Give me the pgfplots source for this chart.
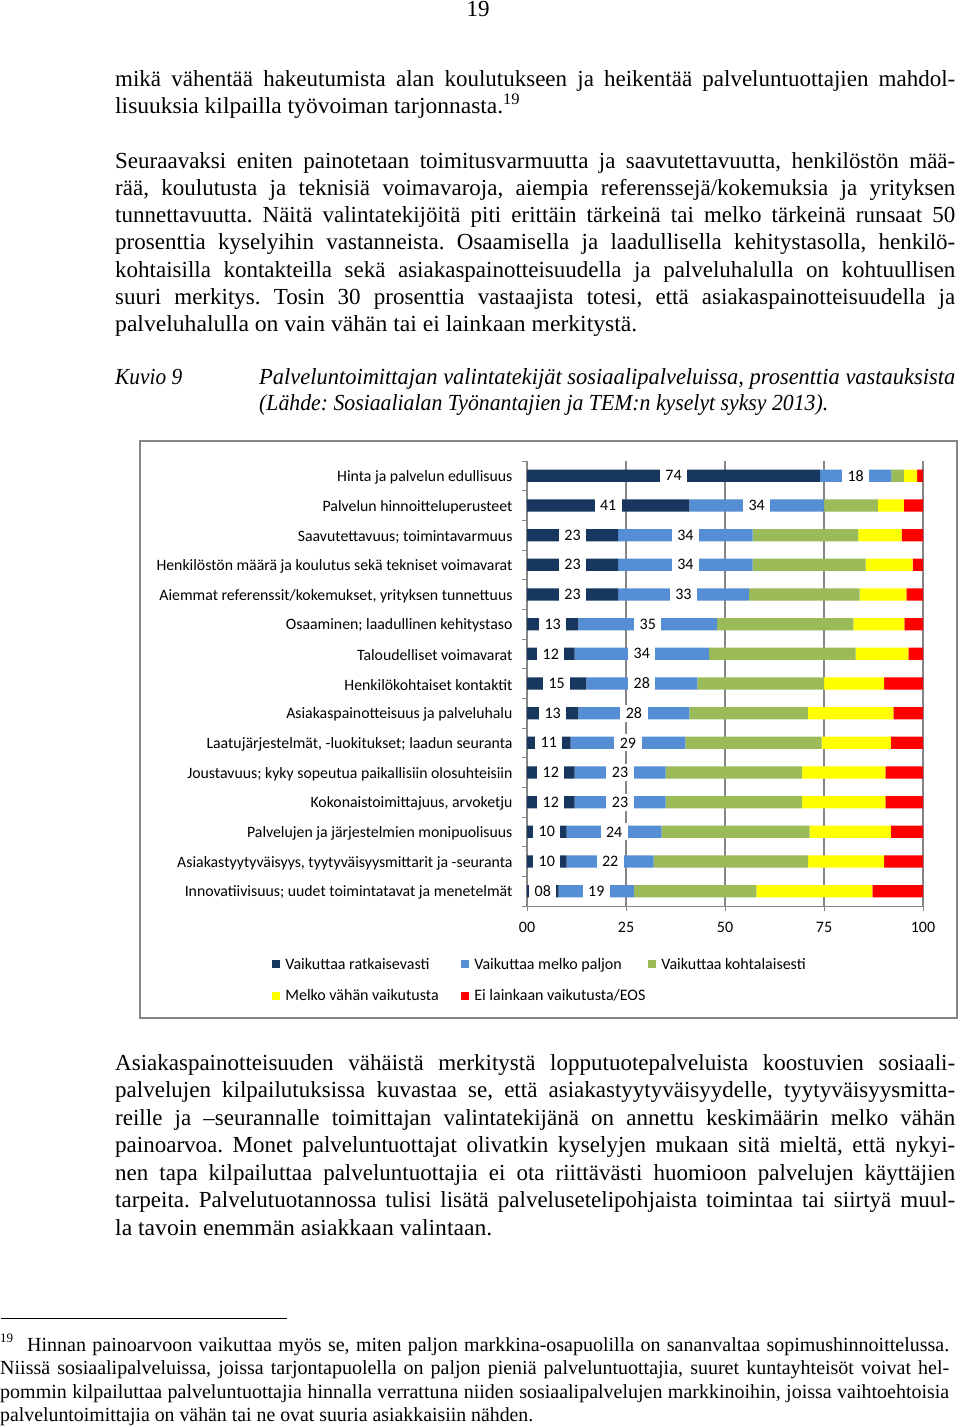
\documentclass[border=0pt]{standalone}
\usepackage{fontspec}
\setmainfont{Liberation Serif}
\newfontfamily\chartfont{Carlito}
\usepackage{graphicx}
\usepackage{pgfplots}
\pgfplotsset{compat=1.18}
\frenchspacing

\definecolor{cDark}{HTML}{17375E}
\definecolor{cBlue}{HTML}{558ED5}
\definecolor{cGreen}{HTML}{9BBB59}
\definecolor{cYellow}{HTML}{FFFF00}
\definecolor{cRed}{HTML}{FF0000}
\definecolor{cGrid}{HTML}{868686}

\newlength\natw
\newcommand\jline[2]{\settowidth\natw{#2}\ifdim\natw<#1\relax\makebox[#1][s]{#2}\else\resizebox{#1}{\height}{#2}\fi}
\newcommand\sline[2]{\resizebox{#1}{\height}{#2}}
\newcommand\bodyfont{\fontsize{23}{27}\selectfont\frenchspacing}
\newcommand\footfont{\fontsize{20}{23}\selectfont\frenchspacing}
\newcommand\cf{\chartfont\fontsize{16}{19}\selectfont}
% body line: x, baseline y, width, text
\newcommand\bl[4]{\node[anchor=base west,inner sep=0pt,font=\bodyfont] at (#1pt,-#2pt) {\jline{#3pt}{#4}};}
\newcommand\slx[4]{\node[anchor=base west,inner sep=0pt,font=\bodyfont] at (#1pt,-#2pt) {\sline{#3pt}{#4}};}
\newcommand\fl[4]{\node[anchor=base west,inner sep=0pt,font=\footfont] at (#1pt,-#2pt) {\jline{#3pt}{#4}};}
\newcommand\fsl[4]{\node[anchor=base west,inner sep=0pt,font=\footfont] at (#1pt,-#2pt) {\sline{#3pt}{#4}};}

\begin{document}
\begin{tikzpicture}
\path[use as bounding box, fill=white] (0pt,0pt) rectangle (960pt,-1427pt);

% page number
\node[anchor=base,inner sep=0pt,font=\bodyfont] at (478pt,-16pt) {19};

% paragraph 1
\bl{115}{86}{840}{mikä vähentää hakeutumista alan koulutukseen ja heikentää palveluntuottajien mahdol-}
\slx{115}{113.5}{405}{lisuuksia kilpailla työvoiman tarjonnasta.\textsuperscript{19}}

% paragraph 2
\bl{115}{168}{840}{Seuraavaksi eniten painotetaan toimitusvarmuutta ja saavutettavuutta, henkilöstön mää-}
\bl{115}{195.3}{840}{rää, koulutusta ja teknisiä voimavaroja, aiempia referenssejä/kokemuksia ja yrityksen}
\bl{115}{222.6}{840}{tunnettavuutta. Näitä valintatekijöitä piti erittäin tärkeinä tai melko tärkeinä runsaat 50}
\bl{115}{249.9}{840}{prosenttia kyselyihin vastanneista. Osaamisella ja laadullisella kehitystasolla, henkilö-}
\bl{115}{277.2}{840}{kohtaisilla kontakteilla sekä asiakaspainotteisuudella ja palveluhalulla on kohtuullisen}
\bl{115}{304.5}{840}{suuri merkitys. Tosin 30 prosenttia vastaajista totesi, että asiakaspainotteisuudella ja}
\slx{115}{331.8}{522}{palveluhalulla on vain vähän tai ei lainkaan merkitystä.}

% caption
\slx{115}{384}{67}{\itshape Kuvio 9}
\bl{259}{384}{696}{\itshape Palveluntoimittajan valintatekijät sosiaalipalveluissa, prosenttia vastauksista}
\slx{259}{410}{569}{\itshape (Lähde: Sosiaalialan Työnantajien ja TEM:n kyselyt syksy 2013).}

% chart frame
\draw[cGrid, line width=1.3pt] (140pt,-441pt) rectangle (957pt,-1018pt);

\begin{axis}[
  at={(527pt,-906pt)}, anchor=south west,
  scale only axis, width=396pt, height=445pt,
  xbar stacked, bar width=12.3pt,
  xmin=0, xmax=100, ymin=-0.5, ymax=14.5,
  enlargelimits=false,
  axis x line*=bottom, axis y line*=left,
  axis line style={cGrid, line width=1pt},
  tick style={cGrid, line width=1pt},
  tick align=outside, major tick length=5pt,
  xtick={0,25,50,75,100}, xticklabels={00,25,50,75,100},
  xmajorgrids, grid style={cGrid, line width=1.1pt},
  ytick={-0.5,0.5,...,14.5},
  y tick label as interval,
  yticklabels={
    Innovatiivisuus; uudet toimintatavat ja menetelmät,
    {Asiakastyytyväisyys, tyytyväisyysmittarit ja -seuranta},
    Palvelujen ja järjestelmien monipuolisuus,
    {Kokonaistoimittajuus, arvoketju},
    Joustavuus; kyky sopeutua paikallisiin olosuhteisiin,
    {Laatujärjestelmät, -luokitukset; laadun seuranta},
    Asiakaspainotteisuus ja palveluhalu,
    Henkilökohtaiset kontaktit,
    Taloudelliset voimavarat,
    Osaaminen; laadullinen kehitystaso,
    {Aiemmat referenssit/kokemukset, yrityksen tunnettuus},
    Henkilöstön määrä ja koulutus sekä tekniset voimavarat,
    Saavutettavuus; toimintavarmuus,
    Palvelun hinnoitteluperusteet,
    Hinta ja palvelun edullisuus},
  yticklabel style={font=\chartfont\fontsize{15.8}{18}\selectfont, xshift=-6pt, yshift=-1.5pt},
  xticklabel style={font=\cf, yshift=-7.5pt},
  legend columns=3,
  legend cell align=left,
  legend image code/.code={\fill[#1,draw=none] (0pt,-4pt) rectangle (8pt,4pt);},
  legend style={draw=none, fill=none, inner sep=0pt, font=\cf,
    at={(axis description cs:-0.6435,-0.1122)}, anchor=north west,
    row sep=15pt, column sep=0pt},
]
\addplot[fill=cDark, draw=none] coordinates {(74,14) (41,13) (23,12) (23,11) (23,10) (13,9) (12,8) (15,7) (13,6) (11,5) (12,4) (12,3) (10,2) (10,1) (8,0)};
\addlegendentry{\makebox[177pt][l]{\hspace*{3pt}Vaikuttaa ratkaisevasti}}
\addplot[fill=cBlue, draw=none] coordinates {(18,14) (34,13) (34,12) (34,11) (33,10) (35,9) (34,8) (28,7) (28,6) (29,5) (23,4) (23,3) (24,2) (22,1) (19,0)};
\addlegendentry{\makebox[175pt][l]{\hspace*{3pt}Vaikuttaa melko paljon}}
\addplot[fill=cGreen, draw=none] coordinates {(3.2,14) (13.6,13) (26.7,12) (28.5,11) (28,10) (34.4,9) (37,8) (32,7) (29.9,6) (34.4,5) (34.5,4) (34.5,3) (37.4,2) (39,1) (30.9,0)};
\addlegendentry{\hspace*{3pt}Vaikuttaa kohtalaisesti}
\addplot[fill=cYellow, draw=none] coordinates {(3.3,14) (6.6,13) (10.9,12) (11.9,11) (11.8,10) (12.9,9) (13.3,8) (15.2,7) (21.6,6) (17.5,5) (21,4) (21,3) (20.5,2) (19.2,1) (29.3,0)};
\addlegendentry{\makebox[177pt][l]{\hspace*{3pt}Melko vähän vaikutusta}}
\addplot[fill=cRed, draw=none] coordinates {(1.5,14) (4.8,13) (5.4,12) (2.6,11) (4.2,10) (4.7,9) (3.7,8) (9.8,7) (7.5,6) (8.1,5) (9.5,4) (9.5,3) (8.1,2) (9.8,1) (12.8,0)};
\addlegendentry{\hspace*{3pt}Ei lainkaan vaikutusta/EOS}
\end{axis}

% data labels (centred on the first two segments, white boxes)
\begin{axis}[
  at={(527pt,-906pt)}, anchor=south west,
  scale only axis, width=396pt, height=445pt,
  xmin=0, xmax=100, ymin=-0.5, ymax=14.5,
  enlargelimits=false, hide axis, clip=false,
  nodes near coords align={center},
  every node near coord/.append style={anchor=center, fill=white, font=\cf,
    inner xsep=5.5pt, inner ysep=0pt, minimum height=17pt, text=black},
]
\addplot[draw=none, mark=none, nodes near coords, point meta=explicit symbolic]
  coordinates {(37,14)[74] (20.5,13)[41] (11.5,12)[23] (11.5,11)[23] (11.5,10)[23] (6.5,9)[13] (6,8)[12] (7.5,7)[15] (6.5,6)[13] (5.5,5)[11] (6,4)[12] (6,3)[12] (5,2)[10] (5,1)[10] (4,0)[08]};
\addplot[draw=none, mark=none, nodes near coords, point meta=explicit symbolic]
  coordinates {(83,14)[18] (58,13)[34] (40,12)[34] (40,11)[34] (39.5,10)[33] (30.5,9)[35] (29,8)[34] (29,7)[28] (27,6)[28] (25.5,5)[29] (23.5,4)[23] (23.5,3)[23] (22,2)[24] (21,1)[22] (17.5,0)[19]};
\end{axis}

% paragraph 3
\bl{115}{1070}{840}{Asiakaspainotteisuuden vähäistä merkitystä lopputuotepalveluista koostuvien sosiaali-}
\bl{115}{1097.5}{840}{palvelujen kilpailutuksissa kuvastaa se, että asiakastyytyväisyydelle, tyytyväisyysmitta-}
\bl{115}{1125}{840}{reille ja –seurannalle toimittajan valintatekijänä on annettu keskimäärin melko vähän}
\bl{115}{1152.5}{840}{painoarvoa. Monet palveluntuottajat olivatkin kyselyjen mukaan sitä mieltä, että nykyi-}
\bl{115}{1180}{840}{nen tapa kilpailuttaa palveluntuottajia ei ota riittävästi huomioon palvelujen käyttäjien}
\bl{115}{1207.5}{840}{tarpeita. Palvelutuotannossa tulisi lisätä palvelusetelipohjaista toimintaa tai siirtyä muul-}
\slx{115}{1235}{377}{la tavoin enemmän asiakkaan valintaan.}

% footnote
\draw[line width=1pt] (1pt,-1318pt) -- (287pt,-1318pt);
\node[anchor=base west,inner sep=0pt,font=\fontsize{13}{15}\selectfont] at (0pt,-1342pt) {19};
\fl{27}{1351.5}{922}{Hinnan painoarvoon vaikuttaa myös se, miten paljon markkina-osapuolilla on sananvaltaa sopimushinnoittelussa.}
\fl{0}{1374.8}{949}{Niissä sosiaalipalveluissa, joissa tarjontapuolella on paljon pieniä palveluntuottajia, suuret kuntayhteisöt voivat hel-}
\fl{0}{1398}{949}{pommin kilpailuttaa palveluntuottajia hinnalla verrattuna niiden sosiaalipalvelujen markkinoihin, joissa vaihtoehtoisia}
\fsl{0}{1421.3}{533}{palveluntoimittajia on vähän tai ne ovat suuria asiakkaisiin nähden.}
\end{tikzpicture}
\end{document}
